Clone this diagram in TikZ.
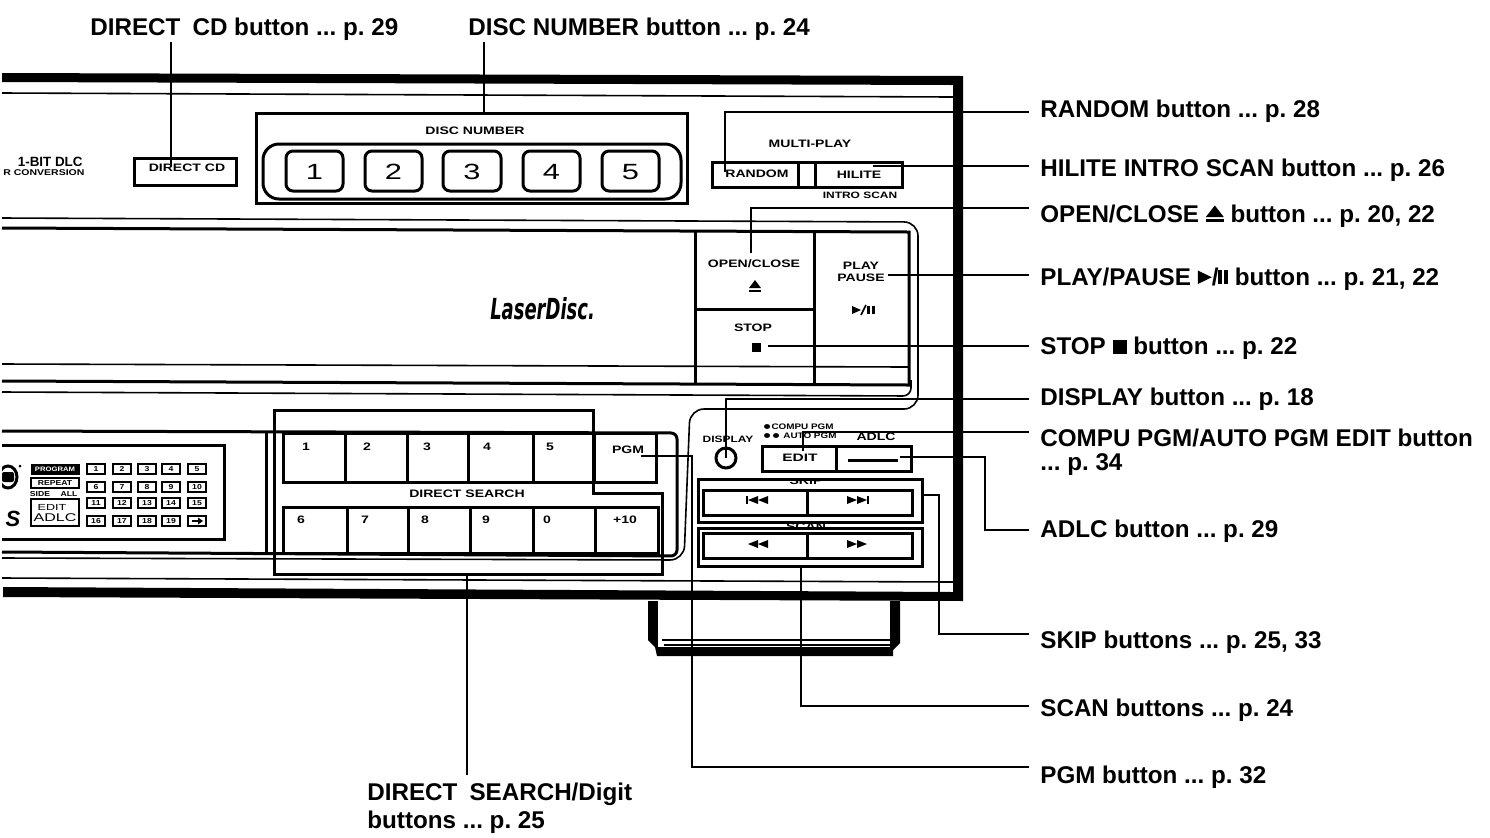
\documentclass[tikz,border=0pt]{standalone}
\usepackage{fontspec}
\usepackage{tikz}
\setmainfont{Liberation Sans}
\newfontfamily\logofont{DejaVu Sans}
\usetikzlibrary{calc}
\frenchspacing

\newcommand{\ejectsym}{\tikz[x=1pt,y=1pt,baseline=0pt]{\fill (0,2.6) -- (9,2.6) -- (4.5,8.4) -- cycle; \fill (0,0) rectangle (9,1.5);}}
\newcommand{\playsym}{\tikz[x=1pt,y=1pt,baseline=0pt]{\fill (0,0.6) -- (7,4) -- (0,7.4) -- cycle;}}
\newcommand{\pausesym}{\tikz[x=1pt,y=1pt,baseline=0pt]{\fill (0,0.6) rectangle (1.8,7.4); \fill (3,0.6) rectangle (4.8,7.4);}}
\newcommand{\stopsym}{\rule{7pt}{7pt}}

\tikzset{
    thinline/.style={line width=0.8pt},
    medline/.style={line width=1.5pt},
    leader/.style={line width=1.3pt},
    label/.style={font=\fontsize{12.1}{14}\selectfont\bfseries, anchor=west, inner sep=0pt, align=left},
    panel/.style={font=\fontsize{5.4}{6.2}\selectfont\bfseries, xscale=1.3, inner sep=0pt, align=center},
    bigdigit/.style={font=\fontsize{11}{12}\selectfont, xscale=1.4, inner sep=0pt},
    mini/.style={font=\fontsize{3.6}{4}\selectfont\bfseries, xscale=1.2, inner sep=0pt},
}

\begin{document}
\begin{tikzpicture}[x=0.5pt, y=-0.5pt]
    \useasboundingbox (0,0) rectangle (1490,837);
    % Outer frame
    \fill (2,73) -- (963,76) -- (963,601) -- (3,597) -- (3,587) -- (953,592) -- (953,85) -- (2,82) -- cycle;
    \draw [thinline] (2,93) -- (953,97);
    % Stand
    \fill (648,601) -- (900,601) -- (900,643) -- (893,650) -- (893,656) -- (657,656) -- (655,647) -- (648,640) -- cycle;
    \fill [white] (658,601) rectangle (890,647);
    \draw [thinline] (662,640) -- (890,640);
    \draw [thinline] (664,645) -- (890,645);
    % Panel lines
    \draw [thinline, rounded corners=7pt] (2,218) -- (918,222) -- (918,409) -- (690,409) -- (684,560) -- (2,558);
    \draw [medline] (2,228) -- (909,232) -- (909,385) -- (2,381);
    \draw [thinline] (2,364) -- (909,367);
    \draw [thinline, rounded corners=4pt] (2,392) -- (911,396) -- (911,380);
    \draw [medline, rounded corners=3pt] (2,431) -- (677,433) -- (677,556) -- (2,552);
    \draw [thinline] (2,578) -- (953,582);
    \draw [medline] (266,433) -- (266,553);

    % DLC text
    \node (dlc) [font=\fontsize{6.7}{7}\selectfont\bfseries, inner sep=0pt, anchor=east] at (83,162) {1-BIT DLC};
    \node (conv) [font=\fontsize{4.2}{5}\selectfont\bfseries, xscale=1.25, inner sep=0pt, anchor=east] at (85,173) {R CONVERSION};
    % Direct CD
    \draw [medline] (134,158) rectangle (236,185);
    \node (directcd) [panel] at (187,168) {DIRECT CD};
    % Disc number
    \draw [medline] (256,113) rectangle (687,203);
    \draw [medline, rounded corners=8pt] (263,144) rectangle (681,199);
    \node (discnum) [panel] at (475,131) {DISC NUMBER};
    \foreach \xa/\xb/\n in {286/343/1, 365/422/2, 443/501/3, 523/580/4, 602/659/5} {
        \draw [medline, rounded corners=3.5pt] (\xa,151) rectangle (\xb,191);
        \node (disc\n) [bigdigit] at ({(\xa+\xb)/2},172) {\n};
    }

    % Multi-play
    \node (multi) [panel] at (810,144) {MULTI-PLAY};
    \draw [medline] (712,162) rectangle (902,187);
    \draw [medline] (798,162) -- (798,187);
    \draw [medline] (815,162) -- (815,187);
    \node (randombtn) [panel] at (757,174) {RANDOM};
    \node (hilitebtn) [panel] at (859,175) {HILITE};
    \node (intro) [panel, font=\fontsize{4.6}{5}\selectfont\bfseries] at (860,195) {INTRO SCAN};

    % Transport keys
    \draw [medline] (695,232) -- (695,385);
    \draw [medline] (814,232) -- (814,385);
    \draw [medline] (695,309) -- (814,309);
    \node (openbtn) [panel] at (754,264) {OPEN/CLOSE};
    \fill (749,288) -- (761,288) -- (755,280) -- cycle;
    \fill (749,290) rectangle (761,292);
    \node (playbtn) [panel] at (861,272) {PLAY\\PAUSE};
    \fill (852,306) -- (861,310) -- (852,314) -- cycle;
    \draw [thinline] (861,315) -- (866,305);
    \fill (867,306) rectangle (870,314);
    \fill (872,306) rectangle (875,314);
    \node (stopbtn) [panel] at (753,328) {STOP};
    \fill (751.5,342.5) rectangle (760.5,351.5);
    % LaserDisc logo
    \node (logo) [font=\logofont\fontsize{14.5}{15}\selectfont\bfseries\itshape, xscale=0.62, inner sep=0pt, anchor=west] at (490,309) {LaserDisc.};

    % Mini display
    \draw [medline] (2,445) -- (224,445) -- (224,539) -- (2,539);
    \fill (31,464) rectangle (80,475);
    \node (progmini) [mini, text=white, font=\fontsize{3.2}{4}\selectfont\bfseries] at (55,469.5) {PROGRAM};
    \draw [thinline] (31,478) rectangle (79,488);
    \node (repmini) [mini] at (55,483) {REPEAT};
    \node (sidemini) [mini, xscale=1] at (40,494) {SIDE};
    \node (allmini) [mini, xscale=1] at (69,494) {ALL};
    \draw [thinline] (31,499) rectangle (79,526);
    \node (editmini) [panel, font=\fontsize{4.4}{5}\selectfont, xscale=1.1] at (52,507) {EDIT};
    \node (adlcmini) [panel, font=\fontsize{5.6}{6}\selectfont, xscale=1.1] at (55,518) {ADLC};
    \foreach \n/\cx/\cy in {1/96/469, 2/122/469, 3/147/469, 4/171/469, 5/197/469,
                            6/96/487, 7/122/487, 8/147/487, 9/171/487, 10/197/487,
                            11/96/503, 12/122/503, 13/147/503, 14/171/503, 15/197/503,
                            16/96/521, 17/122/521, 18/147/521, 19/171/521} {
        \draw [thinline] (\cx-9,\cy-5) rectangle (\cx+9,\cy+5);
        \node (mini\n) [mini] at (\cx,\cy) {\n};
    }
    \draw [thinline] (188,516) rectangle (206,526);
    \draw [line width=1.4pt] (192,521) -- (199,521);
    \fill (198,517.5) -- (203,521) -- (198,524.5) -- cycle;
    % Logo marks on the left
    \begin{scope}
        \clip (2,460) rectangle (30,530);
        \draw [medline] (8,477) ellipse (9 and 11);
        \fill [rounded corners=1pt] (2,472) rectangle (14,482);
    \end{scope}
    \fill (20,466) circle (1.5);
    \node (smark) [font=\fontsize{11}{12}\selectfont\bfseries\itshape, inner sep=0pt] at (13,519) {S};

    % Direct search keys
    \foreach \xa/\xb in {283/345, 345/407, 407/468, 468/533, 533/594} {
        \draw [medline] (\xa,433) rectangle (\xb,482);
    }
    \draw [medline] (594,433) rectangle (656,482);
    \foreach \xa/\xb in {283/347, 347/408, 408/470, 470/533, 533/595, 595/658} {
        \draw [medline] (\xa,507) rectangle (\xb,553);
    }
    \foreach \n/\cx in {1/306, 2/367, 3/427, 4/487, 5/550} {
        \node (top\n) [panel] at (\cx,447) {\n};
    }
    \node (pgmbtn) [panel] at (628,450) {PGM};
    \node (dsearch) [panel] at (467,494) {DIRECT SEARCH};
    \foreach \n/\cx in {6/301, 7/365, 8/425, 9/486, 0/547} {
        \node (low\n) [panel] at (\cx,520) {\n};
    }
    \node (plusten) [panel] at (625,520) {+10};

    % Display and edit
    \node (dispcircle) [draw, medline, circle, minimum size=10pt, inner sep=0pt] at (726,458) {};
    \node (disptext) [panel, font=\fontsize{4.6}{5}\selectfont\bfseries, xscale=1] at (728,439) {DISPLAY};
    \node (compu) [panel, font=\fontsize{4}{5}\selectfont\bfseries, xscale=0.95, anchor=west] at (762,427) {$\bullet$COMPU PGM};
    \node (auto) [panel, font=\fontsize{4}{5}\selectfont\bfseries, xscale=0.95, anchor=west] at (762,436) {$\bullet\bullet$ AUTO PGM};
    \draw [medline] (762,446) rectangle (911,471);
    \draw [medline] (836,446) -- (836,471);
    \node (editbtn) [panel, xscale=1.1] at (800,458) {EDIT};
    \node (adlctext) [panel] at (876,437) {ADLC};
    \draw [medline] (848,460) -- (898,460);

    % Skip and scan
    \begin{scope}
        \clip (770,480.5) rectangle (840,486);
        \node (skiptext) [panel] at (806,481) {SKIP};
    \end{scope}
    \begin{scope}
        \clip (770,521) rectangle (840,527);
        \node (scantext) [panel] at (806,527) {SCAN};
    \end{scope}
    \draw [medline] (698,479) rectangle (922,522);
    \draw [medline] (703,490) rectangle (912,515);
    \draw [medline] (807,490) -- (807,515);
    \draw [medline] (698,528) rectangle (922,566);
    \draw [medline] (703,533) rectangle (912,558);
    \draw [medline] (807,533) -- (807,558);
    \foreach \cx/\dir in {758/-1, 857/1} {
        \begin{scope}[shift={(\cx,500)}, xscale=\dir]
            \fill (-10,-4) -- (0,0) -- (-10,4) -- cycle;
            \fill (0,-4) -- (10,0) -- (0,4) -- cycle;
            \fill (10,-4) rectangle (12,4);
        \end{scope}
        \begin{scope}[shift={(\cx,544)}, xscale=\dir]
            \fill (-10,-4) -- (0,0) -- (-10,4) -- cycle;
            \fill (0,-4) -- (10,0) -- (0,4) -- cycle;
        \end{scope}
    }

    % Labels
    \node (directlbl) [label] at (90,29) {DIRECT\enspace CD button ... p. 29};
    \node (disclbl) [label] at (468,29) {DISC NUMBER button ... p. 24};
    \node (randomlbl) [label] at (1040,111) {RANDOM button ... p. 28};
    \node (hilitelbl) [label] at (1040,170) {HILITE INTRO SCAN button ... p. 26};
    \node (openlbl) [label] at (1040,216) {OPEN/CLOSE \ejectsym{} button ... p. 20, 22};
    \node (playlbl) [label] at (1040,279) {PLAY/PAUSE \playsym/\pausesym{} button ... p. 21, 22};
    \node (stoplbl) [label] at (1040,348) {STOP \stopsym{} button ... p. 22};
    \node (displaylbl) [label] at (1040,399) {DISPLAY button ... p. 18};
    \node (compulbl) [label] at (1040,452) {COMPU PGM/AUTO PGM EDIT button\\[-2pt]... p. 34};
    \node (adlclbl) [label] at (1040,531) {ADLC button ... p. 29};
    \node (skiplbl) [label] at (1040,642) {SKIP buttons ... p. 25, 33};
    \node (scanlbl) [label] at (1040,710) {SCAN buttons ... p. 24};
    \node (pgmlbl) [label] at (1040,777) {PGM button ... p. 32};
    \node (searchlbl) [label] at (367,808) {DIRECT\enspace SEARCH/Digit\\buttons ... p. 25};

    % Leader ends
    \coordinate (directtop) at (171,42);
    \coordinate (disctop) at (484,42);
    \coordinate (directin) at (171,165);
    \coordinate (randomin) at (725,172);
    \coordinate (randomend) at (1029,112);
    \coordinate (hilitein) at (873,166);
    \coordinate (hiliteend) at (1029,166);
    \coordinate (openin) at (751,253);
    \coordinate (openend) at (1029,208);
    \coordinate (playin) at (888,275);
    \coordinate (playend) at (1029,275);
    \coordinate (stopin) at (768,346);
    \coordinate (stopend) at (1029,346);
    \coordinate (displayend) at (1029,399);
    \coordinate (editin) at (803,451);
    \coordinate (editend) at (1029,432);
    \coordinate (adlcin) at (900,457);
    \coordinate (adlcend) at (1029,530);
    \coordinate (skipin) at (922,495);
    \coordinate (skipend) at (1029,634);
    \coordinate (scanin) at (801,566);
    \coordinate (scanend) at (1029,706);
    \coordinate (pgmin) at (641,456);
    \coordinate (pgmend) at (1029,767);
    \coordinate (searchin) at (467,574);
    \coordinate (searchend) at (467,775);

    % Leaders
    \draw [leader] (directtop) -- (directin);
    \draw [leader] (disctop) -- (484,113);
    \draw [leader] (randomin) |- (randomend);
    \draw [leader] (hilitein) -- (hiliteend);
    \draw [leader] (openin) |- (openend);
    \draw [leader] (playin) -- (playend);
    \draw [leader] (stopin) -- (stopend);
    \draw [leader] (dispcircle.center) |- (displayend);
    \draw [leader] (editin) |- (editend);
    \draw [leader] (adlcin) -| (985,530) -- (adlcend);
    \draw [leader] (skipin) -| (939,634) -- (skipend);
    \draw [leader] (scanin) |- (scanend);
    \draw [leader] (pgmin) -| (692,767) -- (pgmend);
    % Direct search bracket
    \draw [medline] (274,574) -- (274,410) -- (593,410) -- (593,493) -- (662,493) -- (662,574) -- cycle;
    \draw [leader] (searchin) -- (searchend);
\end{tikzpicture}
\end{document}
